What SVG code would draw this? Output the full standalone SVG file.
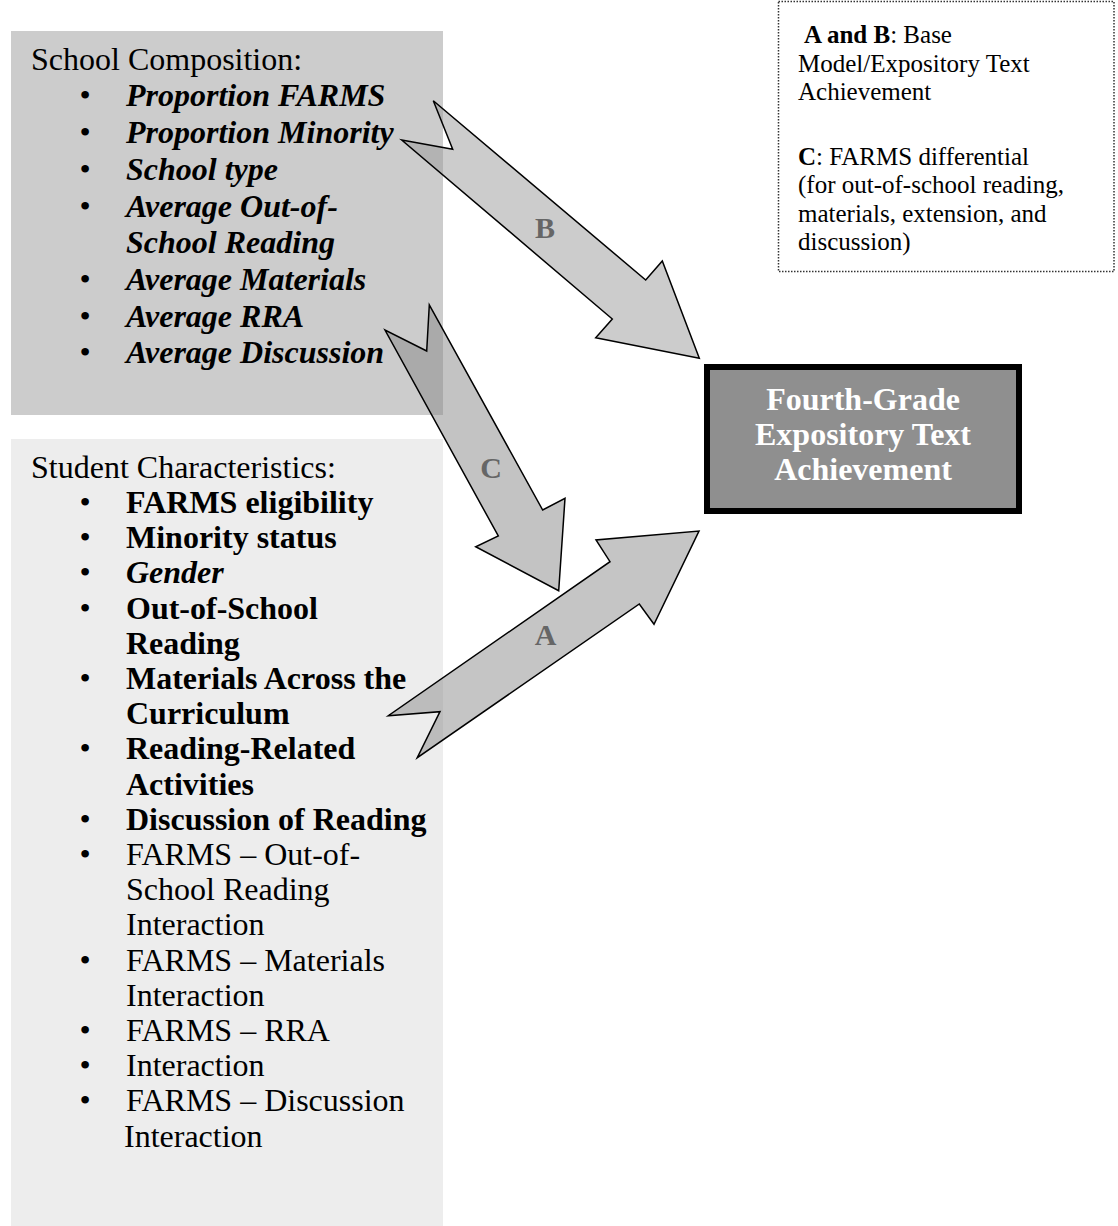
<svg xmlns="http://www.w3.org/2000/svg" width="1118" height="1226" viewBox="0 0 1118 1226">
  <style>
    text { font-family: "Liberation Serif", "Times New Roman", serif; fill: #000; }
    .hd { font-size: 32px; }
    .it { font-size: 32px; font-weight: bold; font-style: italic; }
    .bd { font-size: 32px; font-weight: bold; }
    .rg { font-size: 32px; }
    .bl { font-size: 32px; text-anchor: middle; }
    .lg { font-size: 25px; }
    .lab { font-size: 30px; font-weight: bold; fill: #666666; text-anchor: middle; }
    .out { font-size: 32px; font-weight: bold; fill: #ffffff; text-anchor: middle; }
    .arrow { stroke: #000; stroke-width: 1.5; stroke-linejoin: miter; }
  </style>

  <!-- School-level predictors -->
  <g id="school-composition">
    <rect x="11" y="31" width="432" height="384" fill="#cccccc"/>
    <text class="hd" x="31" y="70">School Composition:</text>
    <text class="bl" x="85" y="106">•</text><text class="it" x="126" y="106">Proportion FARMS</text>
    <text class="bl" x="85" y="143">•</text><text class="it" x="126" y="143">Proportion Minority</text>
    <text class="bl" x="85" y="180">•</text><text class="it" x="126" y="180">School type</text>
    <text class="bl" x="85" y="217">•</text><text class="it" x="126" y="217">Average Out-of-</text>
    <text class="it" x="126" y="253">School Reading</text>
    <text class="bl" x="85" y="290">•</text><text class="it" x="126" y="290">Average Materials</text>
    <text class="bl" x="85" y="327">•</text><text class="it" x="126" y="327">Average RRA</text>
    <text class="bl" x="85" y="363">•</text><text class="it" x="126" y="363">Average Discussion</text>
  </g>

  <!-- Student-level predictors -->
  <g id="student-characteristics">
    <rect x="11" y="439" width="432" height="787" fill="#ededed"/>
    <text class="hd" x="31" y="478">Student Characteristics:</text>
    <text class="bl" x="85" y="513">•</text><text class="bd" x="126" y="513">FARMS eligibility</text>
    <text class="bl" x="85" y="548">•</text><text class="bd" x="126" y="548">Minority status</text>
    <text class="bl" x="85" y="583">•</text><text class="it" x="126" y="583">Gender</text>
    <text class="bl" x="85" y="619">•</text><text class="bd" x="126" y="619">Out-of-School</text>
    <text class="bd" x="126" y="654">Reading</text>
    <text class="bl" x="85" y="689">•</text><text class="bd" x="126" y="689">Materials Across the</text>
    <text class="bd" x="126" y="724">Curriculum</text>
    <text class="bl" x="85" y="759">•</text><text class="bd" x="126" y="759">Reading-Related</text>
    <text class="bd" x="126" y="795">Activities</text>
    <text class="bl" x="85" y="830">•</text><text class="bd" x="126" y="830">Discussion of Reading</text>
    <text class="bl" x="85" y="865">•</text><text class="rg" x="126" y="865">FARMS – Out-of-</text>
    <text class="rg" x="126" y="900">School Reading</text>
    <text class="rg" x="126" y="935">Interaction</text>
    <text class="bl" x="85" y="971">•</text><text class="rg" x="126" y="971">FARMS – Materials</text>
    <text class="rg" x="126" y="1006">Interaction</text>
    <text class="bl" x="85" y="1041">•</text><text class="rg" x="126" y="1041">FARMS – RRA</text>
    <text class="bl" x="85" y="1076">•</text><text class="rg" x="126" y="1076">Interaction</text>
    <text class="bl" x="85" y="1111">•</text><text class="rg" x="126" y="1111">FARMS – Discussion</text>
    <text class="rg" x="124" y="1147">Interaction</text>
  </g>

  <!-- Outcome -->
  <g id="outcome">
    <rect x="707" y="367" width="312" height="144" fill="#8f8f8f" stroke="#000" stroke-width="6"/>
    <text class="out" x="863" y="410">Fourth-Grade</text>
    <text class="out" x="863" y="445">Expository Text</text>
    <text class="out" x="863" y="480">Achievement</text>
  </g>

  <!-- Path key -->
  <g id="legend">
    <rect x="778.5" y="1.5" width="335.5" height="270" fill="none" stroke="#333" stroke-width="1.5" stroke-dasharray="1.5 1.5"/>
    <text class="lg" x="804" y="43"><tspan font-weight="bold">A and B</tspan>: Base</text>
    <text class="lg" x="798" y="72">Model/Expository Text</text>
    <text class="lg" x="798" y="100">Achievement</text>
    <text class="lg" x="798" y="165"><tspan font-weight="bold">C</tspan>:  FARMS differential</text>
    <text class="lg" x="798" y="193">(for out-of-school reading,</text>
    <text class="lg" x="798" y="222">materials, extension, and</text>
    <text class="lg" x="798" y="250">discussion)</text>
  </g>

  <!-- Paths A, B, C -->
  <g id="connectors">
    <g id="path-b">
      <polygon class="arrow" fill="#999999" fill-opacity="0.5" points="433.3,100.7 452.7,149.3 401.7,140 612.3,319 595.7,337.7 699.3,358.3 662.3,261 645.7,280"/>
      <text class="lab" x="545" y="238">B</text>
    </g>
    <g id="path-c">
      <polygon class="arrow" fill="#888888" fill-opacity="0.5" points="429.3,305 426.7,351 385,330 498.3,536 475.7,546.7 558.7,590.7 565,498.3 542.7,510"/>
      <text class="lab" x="491" y="478">C</text>
    </g>
    <g id="path-a">
      <polygon class="arrow" fill="#8c8c8c" fill-opacity="0.5" points="417.3,757.7 440,711.7 388.3,715.7 610,561.7 596,540 699,531 654,624.3 639.3,604"/>
      <text class="lab" x="545.5" y="645">A</text>
    </g>
  </g>
</svg>
